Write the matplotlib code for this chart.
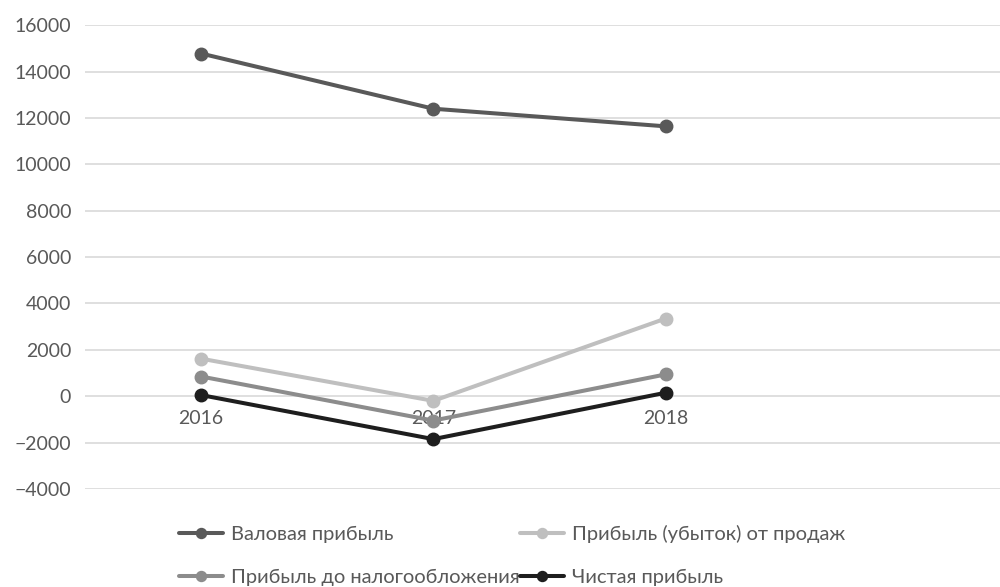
import matplotlib.pyplot as plt

years = ["2016", "2017", "2018"]
valovaya = [14780, 12400, 11640]
prodazhi = [1620, -200, 3350]
do_nalog = [850, -1050, 940]
chistaya = [50, -1850, 150]

names = ["Валовая прибыль", "Прибыль (убыток) от продаж",
         "Прибыль до налогообложения", "Чистая прибыль"]
colors = ["#595959", "#bfbfbf", "#8c8c8c", "#1e1e1e"]

plt.rcParams['font.family'] = ['Lato', 'DejaVu Sans']

fig = plt.figure(figsize=(10, 5.87), dpi=100)
ax = fig.add_axes([0.085, 0.167, 0.915, 0.79])

x = range(len(years))
lines = []
for vals, name, c in zip([valovaya, prodazhi, do_nalog, chistaya], names, colors):
    ln, = ax.plot(x, vals, color=c, lw=2.9, marker='o', ms=9,
                  solid_capstyle='round', label=name, zorder=3)
    lines.append(ln)

ax.set_ylim(-4000, 16000)
ax.set_xlim(-0.5, 3.44)
ax.set_yticks(range(-4000, 16001, 2000))
ax.grid(axis='y', color='#d9d9d9', lw=1.2)
ax.set_axisbelow(True)

ax.set_xticks(list(x))
ax.set_xticklabels(years)
ax.spines['bottom'].set_position(('data', 0))
for s in ax.spines.values():
    s.set_color('none')
ax.tick_params(axis='both', length=0, labelsize=14, colors='#595959')
ax.tick_params(axis='x', pad=10)
ax.tick_params(axis='y', pad=10)

# порядок: по строкам в две колонки
order = [0, 2, 1, 3]
fig.legend([lines[i] for i in order], [names[i] for i in order],
           ncol=2, loc='center', bbox_to_anchor=(0.512, 0.054),
           frameon=False, fontsize=14.5, handlelength=2.2, handletextpad=0.4,
           columnspacing=0.0, labelspacing=1.3, labelcolor='#595959',
           markerscale=0.8)

fig.savefig('out.png')
